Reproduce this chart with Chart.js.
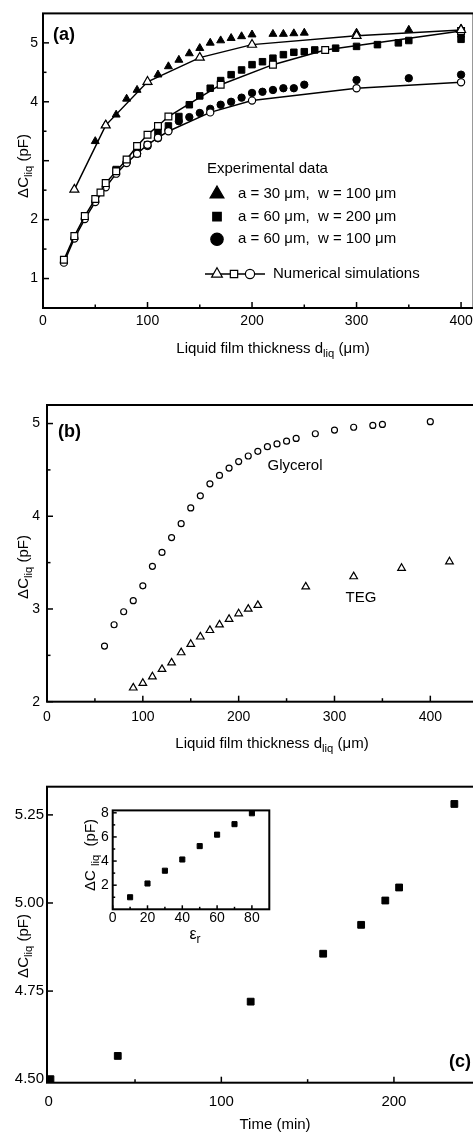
<!DOCTYPE html>
<html>
<head>
<meta charset="utf-8">
<script src="https://cdn.jsdelivr.net/npm/chart.js@4"></script>
<style>
  html, body { margin: 0; padding: 0; background: #fff; overflow: hidden; }
  body { width: 473px; height: 1133px; position: relative; }
  canvas { position: absolute; }
</style>
</head>
<body>
<canvas id="chartA" width="480" height="360" style="left:0;top:0"></canvas>
<canvas id="chartB" width="480" height="400" style="left:0;top:360px"></canvas>
<canvas id="chartC" width="480" height="373" style="left:0;top:760px"></canvas>
<canvas id="chartInset" width="205" height="160" style="left:70px;top:798px"></canvas>
<script>
const FONT = "'Liberation Sans', Arial, sans-serif";

// panel (a) - experimental data, three geometries
const aTriX = [50, 60, 70, 80, 90, 100, 110, 120, 130, 140, 150, 160, 170, 180, 190, 200, 220, 230, 240, 250, 300, 350, 400];
const aTriY = [3.33, 3.61, 3.78, 4.05, 4.20, 4.33, 4.46, 4.60, 4.71, 4.82, 4.91, 5.00, 5.04, 5.08, 5.11, 5.14, 5.15, 5.15, 5.16, 5.17, 5.17, 5.22, 5.24];
const aSqX = [60, 70, 80, 90, 100, 110, 120, 130, 140, 150, 160, 170, 180, 190, 200, 210, 220, 230, 240, 250, 260, 280, 300, 320, 340, 350, 400, 400];
const aSqY = [2.60, 2.85, 3.00, 3.12, 3.27, 3.47, 3.59, 3.75, 3.95, 4.10, 4.23, 4.36, 4.46, 4.54, 4.63, 4.68, 4.74, 4.80, 4.84, 4.85, 4.88, 4.91, 4.94, 4.97, 5.00, 5.04, 5.06, 5.15];
const aCirX = [80, 90, 100, 110, 120, 130, 140, 150, 160, 170, 180, 190, 200, 210, 220, 230, 240, 250, 300, 350, 400];
const aCirY = [2.98, 3.12, 3.25, 3.38, 3.52, 3.67, 3.74, 3.81, 3.88, 3.95, 4.00, 4.07, 4.15, 4.17, 4.20, 4.23, 4.23, 4.29, 4.37, 4.40, 4.46];
// panel (a) - numerical simulations
const aSimTriX = [30, 60, 100, 150, 200, 300, 400];
const aSimTriY = [2.51, 3.60, 4.34, 4.75, 4.97, 5.12, 5.22];
const aSimSqX = [20, 30, 40, 50, 55, 60, 70, 80, 90, 100, 110, 120, 170, 220, 270, 400];
const aSimSqY = [1.32, 1.72, 2.06, 2.35, 2.46, 2.62, 2.82, 3.02, 3.25, 3.44, 3.59, 3.75, 4.29, 4.63, 4.88, 5.20];
const aSimCirX = [20, 30, 40, 50, 60, 70, 80, 90, 100, 110, 120, 160, 200, 300, 400];
const aSimCirY = [1.27, 1.68, 2.01, 2.30, 2.55, 2.78, 2.96, 3.12, 3.27, 3.39, 3.50, 3.82, 4.02, 4.23, 4.33];
const aLegend = ['a = 30 \u03bcm,  w = 100 \u03bcm', 'a = 60 \u03bcm,  w = 200 \u03bcm', 'a = 60 \u03bcm,  w = 100 \u03bcm'];

// panel (b) - two liquids
const bGlyX = [60, 70, 80, 90, 100, 110, 120, 130, 140, 150, 160, 170, 180, 190, 200, 210, 220, 230, 240, 250, 260, 280, 300, 320, 340, 350, 400];
const bGlyY = [2.60, 2.83, 2.97, 3.09, 3.25, 3.46, 3.61, 3.77, 3.92, 4.09, 4.22, 4.35, 4.44, 4.52, 4.59, 4.65, 4.70, 4.75, 4.78, 4.81, 4.84, 4.89, 4.93, 4.96, 4.98, 4.99, 5.02];
const bTegX = [90, 100, 110, 120, 130, 140, 150, 160, 170, 180, 190, 200, 210, 220, 270, 320, 370, 420];
const bTegY = [2.15, 2.20, 2.27, 2.35, 2.42, 2.53, 2.62, 2.70, 2.77, 2.83, 2.89, 2.95, 3.00, 3.04, 3.24, 3.35, 3.44, 3.51];

// panel (c) - time series and inset
const cTime = [1, 40, 117, 159, 181, 195, 203, 235];
const cCap = [4.50, 4.566, 4.72, 4.856, 4.938, 5.007, 5.044, 5.281];
const insetEps = [10, 20, 30, 40, 50, 60, 70, 80];
const insetCap = [1.00, 2.14, 3.20, 4.13, 5.24, 6.19, 7.06, 7.96];

function pts(xs, ys) {
  return xs.map((x, i) => ({ x: x, y: ys[i] }));
}

// draws text with optional subscript parts: parts = [[text, isSub], ...]
function rich(ctx, parts, x, y, size, opt) {
  opt = opt || {};
  const w = opt.bold ? 'bold ' : '';
  const fontOf = sub => w + (sub ? size * 0.75 : size) + 'px ' + FONT;
  const widths = parts.map(p => { ctx.font = fontOf(p[1]); return ctx.measureText(p[0]).width; });
  const total = widths.reduce((a, b) => a + b, 0);
  ctx.save();
  ctx.translate(x, y);
  if (opt.rotate) ctx.rotate(-Math.PI / 2);
  ctx.fillStyle = '#000';
  ctx.textAlign = 'left';
  ctx.textBaseline = 'middle';
  let cx = opt.align === 'left' ? 0 : -total / 2;
  parts.forEach((p, i) => {
    ctx.font = fontOf(p[1]);
    ctx.fillText(p[0], cx, p[1] ? size * 0.32 : 0);
    cx += widths[i];
  });
  ctx.restore();
}

function scale(o) {
  return {
    type: 'linear',
    min: o.min,
    max: o.max,
    grid: { display: false, drawTicks: false },
    border: { display: false },
    afterBuildTicks: s => {
      s.ticks = o.major.concat(o.minor).sort((a, b) => a - b).map(v => ({ value: v }));
    },
    afterFit: s => {
      if (s.isHorizontal()) s.height = o.fit; else s.width = o.fit;
    },
    ticks: {
      autoSkip: false,
      maxRotation: 0,
      minRotation: 0,
      padding: o.pad,
      color: '#000',
      font: { family: FONT, size: o.size },
      callback: v => ((o.labels || o.major).indexOf(v) >= 0 ? (o.fmt ? o.fmt(v) : String(v)) : '')
    }
  };
}

// box around the plot, inward tick marks, and free text
function frame(o) {
  return {
    id: 'frame',
    afterDraw(chart) {
      const ctx = chart.ctx, a = chart.chartArea;
      const sx = chart.scales.x, sy = chart.scales.y;
      const big = o.big || 6, small = o.small || 3.5;
      ctx.save();
      ctx.strokeStyle = '#000';
      ctx.lineWidth = 1.5;
      const tx = (v, len) => {
        const p = sx.getPixelForValue(v);
        ctx.beginPath(); ctx.moveTo(p, a.bottom); ctx.lineTo(p, a.bottom - len); ctx.stroke();
      };
      const ty = (v, len) => {
        const p = sy.getPixelForValue(v);
        ctx.beginPath(); ctx.moveTo(a.left, p); ctx.lineTo(a.left + len, p); ctx.stroke();
      };
      o.x[0].forEach(v => tx(v, big));
      o.x[1].forEach(v => tx(v, small));
      o.y[0].forEach(v => ty(v, big));
      o.y[1].forEach(v => ty(v, small));
      ctx.lineWidth = o.lw || 2;
      ctx.strokeRect(a.left, a.top, a.right - a.left, a.bottom - a.top);
      ctx.restore();
      if (o.draw) o.draw(ctx);
    }
  };
}

function filled(label, data, style, r) {
  return { label: label, data: data, pointStyle: style, pointRadius: r, backgroundColor: '#000',
    borderColor: '#000', pointBorderWidth: 1, order: 1 };
}
function hollow(label, data, style, r, line) {
  return { label: label, data: data, pointStyle: style, pointRadius: r, showLine: !!line,
    borderColor: '#000', borderWidth: 1.5, pointBackgroundColor: '#fff', pointBorderColor: '#000',
    pointBorderWidth: 1.2, backgroundColor: '#fff', order: 0 };
}

function baseOptions(padding, xs, ys) {
  return {
    responsive: false,
    animation: false,
    events: [],
    layout: { padding: padding },
    plugins: { legend: { display: false }, tooltip: { enabled: false } },
    scales: { x: scale(xs), y: scale(ys) }
  };
}

function marker(ctx, style, x, y, r, fill) {
  ctx.save();
  ctx.fillStyle = fill;
  ctx.strokeStyle = '#000';
  ctx.lineWidth = 1.2;
  Chart.helpers.drawPoint(ctx, { pointStyle: style, radius: r, rotation: 0, borderWidth: 1.2 }, x, y);
  ctx.restore();
}

// ---------- (a)
new Chart(document.getElementById('chartA'), {
  type: 'scatter',
  data: {
    datasets: [
      hollow('Numerical simulations', pts(aSimTriX, aSimTriY), 'triangle', 5.2, true),
      hollow('Numerical simulations', pts(aSimSqX, aSimSqY), 'rect', 4.8, true),
      hollow('Numerical simulations', pts(aSimCirX, aSimCirY), 'circle', 3.6, true),
      filled(aLegend[0], pts(aTriX, aTriY), 'triangle', 4.6),
      filled(aLegend[1], pts(aSqX, aSqY), 'rect', 4.6),
      filled(aLegend[2], pts(aCirX, aCirY), 'circle', 3.7)
    ]
  },
  options: baseOptions({ top: 12, right: 4, left: 0, bottom: 0 },
    { min: 0, max: 412, major: [0, 100, 200, 300, 400], minor: [50, 150, 250, 350], size: 14, pad: 5, fit: 52 },
    { min: 0.5, max: 5.5, major: [1, 2, 3, 4, 5], minor: [1.5, 2.5, 3.5, 4.5], labels: [1, 2, 4, 5], size: 14, pad: 5, fit: 43 }),
  plugins: [frame({
    x: [[0, 100, 200, 300, 400], [50, 150, 250, 350]],
    y: [[1, 2, 3, 4, 5], [1.5, 2.5, 3.5, 4.5]],
    draw: ctx => {
      rich(ctx, [['(a)']], 53, 35, 18, { bold: true, align: 'left' });
      rich(ctx, [['\u0394C'], ['liq', 1], [' (pF)']], 24, 166, 15, { rotate: true });
      rich(ctx, [['Liquid film thickness d'], ['liq', 1], [' (\u03bcm)']], 273, 349, 15);
      rich(ctx, [['Experimental data']], 207, 169, 15, { align: 'left' });
      const rows = [194, 216.7, 239.3], styles = [['triangle', 8], ['rect', 6], ['circle', 6.2]];
      rows.forEach((y, i) => {
        marker(ctx, styles[i][0], 217, y, styles[i][1], '#000');
        rich(ctx, [[aLegend[i]]], 238, y, 15, { align: 'left' });
      });
      ctx.save();
      ctx.strokeStyle = '#000'; ctx.lineWidth = 1.5;
      ctx.beginPath(); ctx.moveTo(205, 274); ctx.lineTo(265, 274); ctx.stroke();
      ctx.restore();
      marker(ctx, 'triangle', 217, 274, 6.2, '#fff');
      marker(ctx, 'rect', 234, 274, 5.2, '#fff');
      marker(ctx, 'circle', 250, 274, 4.6, '#fff');
      rich(ctx, [['Numerical simulations']], 273, 274, 15, { align: 'left' });
    }
  })]
});

// ---------- (b)
new Chart(document.getElementById('chartB'), {
  type: 'scatter',
  data: {
    datasets: [
      hollow('Glycerol', pts(bGlyX, bGlyY), 'circle', 3),
      hollow('TEG', pts(bTegX, bTegY), 'triangle', 4.4)
    ]
  },
  options: baseOptions({ top: 45, right: 4, left: 0, bottom: 0 },
    { min: 0, max: 446, major: [0, 100, 200, 300, 400], minor: [50, 150, 250, 350], size: 14, pad: 7, fit: 58.3 },
    { min: 2, max: 5.2, major: [2, 3, 4, 5], minor: [2.5, 3.5, 4.5], size: 14, pad: 7, fit: 47 }),
  plugins: [frame({
    x: [[0, 100, 200, 300, 400], [50, 150, 250, 350]],
    y: [[2, 3, 4, 5], [2.5, 3.5, 4.5]],
    draw: ctx => {
      rich(ctx, [['(b)']], 58, 72, 18, { bold: true, align: 'left' });
      rich(ctx, [['\u0394C'], ['liq', 1], [' (pF)']], 24, 207, 15, { rotate: true });
      rich(ctx, [['Liquid film thickness d'], ['liq', 1], [' (\u03bcm)']], 272, 384, 15);
      rich(ctx, [['Glycerol']], 295, 106, 15);
      rich(ctx, [['TEG']], 361, 238, 15);
    }
  })]
});

// ---------- (c)
new Chart(document.getElementById('chartC'), {
  type: 'scatter',
  data: { datasets: [filled('\u0394C', pts(cTime, cCap), 'rect', 4.8)] },
  options: baseOptions({ top: 26.7, right: 4, left: 0, bottom: 0 },
    { min: -1, max: 246.5, major: [0, 100, 200], minor: [50, 150], size: 15, pad: 10, fit: 50.3 },
    { min: 4.49, max: 5.33, major: [4.5, 4.75, 5, 5.25], minor: [], fmt: v => v.toFixed(2), size: 15, pad: 3, fit: 47 }),
  plugins: [frame({
    x: [[0, 100, 200], [50, 150]],
    y: [[4.5, 4.75, 5, 5.25], []],
    draw: ctx => {
      rich(ctx, [['(c)']], 449, 302, 18, { bold: true, align: 'left' });
      rich(ctx, [['\u0394C'], ['liq', 1], [' (pF)']], 24, 186, 15, { rotate: true });
      rich(ctx, [['Time (min)']], 275, 365, 15);
    }
  })]
});

// ---------- inset
new Chart(document.getElementById('chartInset'), {
  type: 'scatter',
  data: { datasets: [filled('\u0394C', pts(insetEps, insetCap), 'rect', 3.6)] },
  options: baseOptions({ top: 7.7, right: 5.7, left: 0, bottom: 0 },
    { min: 0, max: 90, major: [0, 20, 40, 60, 80], minor: [10, 30, 50, 70], size: 14, pad: 0, fit: 48.7 },
    { min: 0, max: 8.2, major: [2, 4, 6, 8], minor: [1, 3, 5, 7], size: 14, pad: 4, fit: 42.7 }),
  plugins: [frame({
    x: [[0, 20, 40, 60, 80], [10, 30, 50, 70]],
    y: [[2, 4, 6, 8], [1, 3, 5, 7]],
    big: 4, small: 2.5,
    draw: ctx => {
      rich(ctx, [['\u0394C '], ['liq', 1], ['  (pF)']], 21, 57, 15, { rotate: true });
      rich(ctx, [['\u03b5'], ['r', 1]], 125, 137, 16);
    }
  })]
});
</script>
</body>
</html>
